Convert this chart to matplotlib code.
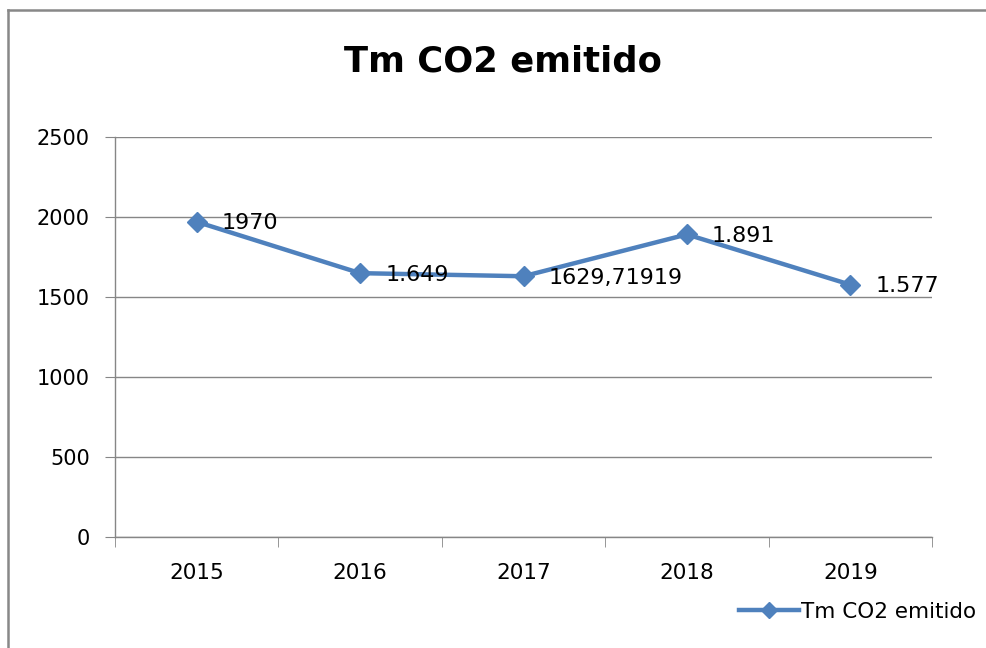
import matplotlib.pyplot as plt
from matplotlib.lines import Line2D
from matplotlib.ticker import FixedLocator

years = ["2015", "2016", "2017", "2018", "2019"]
co2 = [1970, 1649, 1629.71919, 1891, 1577]
point_labels = ["1970", "1.649", "1629,71919", "1.891", "1.577"]
series_name = "Tm CO2 emitido"

blue = "#4F81BD"
grey = "#868686"

plt.rcParams['font.family'] = ['DejaVu Sans']

fig = plt.figure(figsize=(9.87, 6.48), dpi=100)
ax = fig.add_axes([115/987, 1-537/648, (932-115)/987, (537-137)/648])

x = list(range(len(years)))
ax.plot(x, co2, color=blue, lw=3.2, marker="D", markersize=10,
        label=series_name, zorder=3)

for xi, yi, txt in zip(x, co2, point_labels):
    ax.annotate(txt, (xi, yi), xytext=(18, -1), textcoords="offset points",
                ha="left", va="center", fontsize=16, color="black")

ax.set_xlim(-0.5, len(years) - 0.5)
ax.set_ylim(0, 2500)
ax.set_yticks([0, 500, 1000, 1500, 2000, 2500])
ax.set_xticks(x)
ax.set_xticklabels(years)
ax.xaxis.set_minor_locator(FixedLocator([i - 0.5 for i in range(len(years) + 1)]))

ax.yaxis.grid(True, color=grey, lw=1)
ax.set_axisbelow(True)
for s in ["top", "right"]:
    ax.spines[s].set_visible(False)
for s in ["left", "bottom"]:
    ax.spines[s].set_color(grey)
    ax.spines[s].set_linewidth(1)

ax.tick_params(axis="y", length=7, color=grey, labelsize=15, pad=11)
ax.tick_params(axis="x", which="major", length=0, labelsize=15.5, pad=19)
ax.tick_params(axis="x", which="minor", length=7, color=grey)

fig.text(0.51, 1 - 62/648, series_name, ha="center", va="center",
         fontsize=25.5, fontweight="bold")

handle = Line2D([], [], color=blue, lw=3.2, marker="D", markersize=8)
fig.legend([handle], [series_name], loc="center right",
           bbox_to_anchor=(1.0, 1 - 612/648), frameon=False, fontsize=15.5,
           handlelength=2.8, handletextpad=0.1, borderaxespad=0.1)

# chart border like the spreadsheet frame
fig.add_artist(Line2D([8/987, 1], [1-10/648, 1-10/648], color="#888888", lw=1.8,
                      transform=fig.transFigure))
fig.add_artist(Line2D([8/987, 8/987], [0, 1-10/648], color="#888888", lw=1.8,
                      transform=fig.transFigure))

fig.savefig("out.png", dpi=100)
